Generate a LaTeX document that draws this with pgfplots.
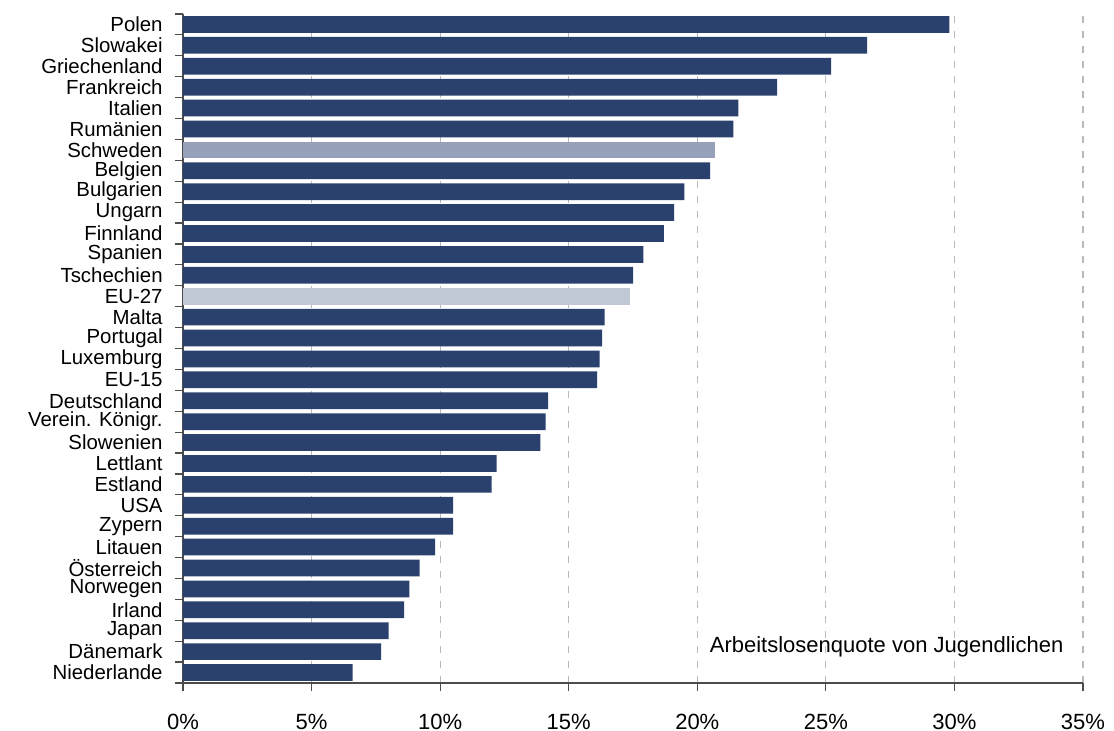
\documentclass[border=0pt]{standalone}
\usepackage{pgfplots}
\pgfplotsset{compat=1.18}
\usepackage{fontspec}
\setmainfont{Liberation Sans}

\definecolor{barblue}{RGB}{42,65,110}
\definecolor{barswe}{RGB}{150,161,185}
\definecolor{bareu}{RGB}{192,200,213}

\begin{document}
\begin{tikzpicture}
\useasboundingbox (-91.5pt,-24pt) rectangle (465.5pt,341.5pt);
\begin{axis}[
    /pgf/number format/assume math mode=true,
    scale only axis,
    width=450pt, height=334.5pt,
    xbar, bar shift=0pt, bar width=0.8,
    xmin=0, xmax=35,
    ymin=-0.5, ymax=31.5,
    axis x line*=bottom,
    axis y line*=left,
    axis line style={gray!60!black, line width=0.6pt},
    xtick={0,5,...,35},
    xticklabel={\pgfmathprintnumber{\tick}\%},
    ytick={0,...,31},
    yticklabels={Niederlande, Dänemark, Japan, Irland, Norwegen, Österreich,
        Litauen, Zypern, USA, Estland, Lettlant, Slowenien, Verein. Königr.,
        Deutschland, EU-15, Luxemburg, Portugal, Malta, EU-27, Tschechien,
        Spanien, Finnland, Ungarn, Bulgarien, Belgien, Schweden, Rumänien,
        Italien, Frankreich, Griechenland, Slowakei, Polen},
    minor ytick={-0.5,0.5,...,31.5},
    tick align=outside,
    major tick length=4pt,
    minor tick length=4pt,
    tick style={gray!60!black, line width=0.6pt},
    major y tick style={draw=none},
    xticklabel style={font=\fontsize{11}{12}\selectfont, yshift=-8pt},
    yticklabel style={font=\fontsize{10.2}{11}\selectfont, inner sep=0pt, xshift=-6pt},
    xmajorgrids=true,
    grid style={gray!55, line width=0.6pt, dash pattern=on 3.5pt off 4pt},
    every axis plot/.append style={draw=none},
]
% Laender
\addplot[fill=barblue] coordinates {
    (6.6,0) (7.7,1) (8.0,2) (8.6,3) (8.8,4) (9.2,5) (9.8,6) (10.5,7)
    (10.5,8) (12.0,9) (12.2,10) (13.9,11) (14.1,12) (14.2,13) (16.1,14)
    (16.2,15) (16.3,16) (16.4,17) (17.5,19) (17.9,20) (18.7,21)
    (19.1,22) (19.5,23) (20.5,24) (21.4,26) (21.6,27) (23.1,28)
    (25.2,29) (26.6,30) (29.8,31)
};
% Schweden
\addplot[fill=barswe] coordinates {(20.7,25)};
% EU-27
\addplot[fill=bareu] coordinates {(17.4,18)};
\node[anchor=east, font=\fontsize{11}{12}\selectfont]
    at (rel axis cs:0.986,0.054) {Arbeitslosenquote von Jugendlichen};
\end{axis}
\end{tikzpicture}
\end{document}
